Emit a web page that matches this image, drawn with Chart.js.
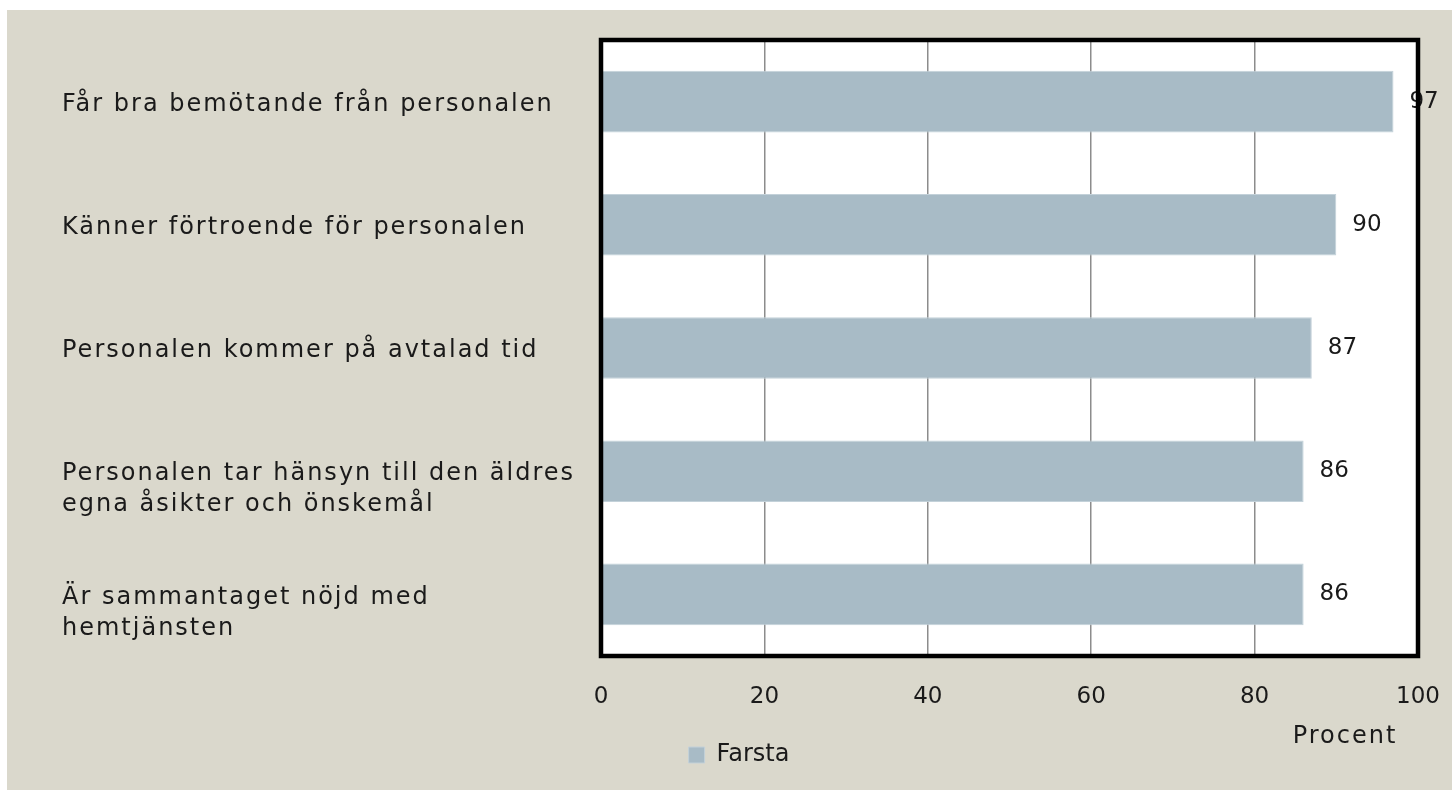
<!DOCTYPE html>
<html>
<head>
<meta charset="utf-8">
<script src="https://cdn.jsdelivr.net/npm/chart.js@4"></script>
<style>
  html, body { margin: 0; padding: 0; background: #ffffff; }
  #wrap { position: absolute; left: 7px; top: 10px; width: 1445px; height: 780px; background: #dad8cc; }
</style>
</head>
<body>
<div id="wrap"><canvas id="myChart" width="1445" height="780"></canvas></div>
<script>
// Data
const categories = [
    ['Får bra bemötande från personalen'],
    ['Känner förtroende för personalen'],
    ['Personalen kommer på avtalad tid'],
    ['Personalen tar hänsyn till den äldres', 'egna åsikter och önskemål'],
    ['Är sammantaget nöjd med', 'hemtjänsten']
];
const farsta = [97, 90, 87, 86, 86];
const xTicks = [0, 20, 40, 60, 80, 100];
const seriesName = 'Farsta';
const axisTitle = 'Procent';

const FONT = 'DejaVu Sans';
const TEXT = '#1a1a1a';

// Vit bakgrund i ritytan + ram, etiketter
const decor = {
    id: 'decor',
    beforeDraw(chart) {
        const { ctx, chartArea: a } = chart;
        ctx.save();
        ctx.fillStyle = '#ffffff';
        ctx.fillRect(a.left, a.top, a.right - a.left, a.bottom - a.top);
        ctx.restore();
    },
    afterDatasetsDraw(chart) {
        const { ctx } = chart;
        const yScale = chart.scales.y;
        ctx.save();
        ctx.fillStyle = TEXT;
        ctx.textBaseline = 'middle';
        ctx.textAlign = 'left';
        // kategorietiketter
        ctx.font = '24px "' + FONT + '"';
        ctx.letterSpacing = '2px';
        categories.forEach((lines, i) => {
            const y = yScale.getPixelForValue(i) + 3;
            lines.forEach((line, j) => ctx.fillText(line, 55, y + j * 31));
        });
        // axeltitel
        ctx.textAlign = 'center';
        ctx.fillText(axisTitle, 1338, 727);
        // värdeetiketter
        ctx.font = '23px "' + FONT + '"';
        ctx.letterSpacing = '0px';
        ctx.textAlign = 'left';
        chart.getDatasetMeta(0).data.forEach((bar, i) => {
            ctx.fillText(String(farsta[i]), bar.x + 16, bar.y);
        });
        ctx.restore();
    },
    afterDraw(chart) {
        const { ctx, chartArea: a } = chart;
        ctx.save();
        ctx.strokeStyle = '#000000';
        ctx.lineWidth = 4.5;
        ctx.strokeRect(a.left, a.top, a.right - a.left, a.bottom - a.top);
        ctx.restore();
    }
};

const ctx = document.getElementById('myChart').getContext('2d');
const chart = new Chart(ctx, {
    type: 'bar',
    data: {
        labels: categories,
        datasets: [{
            label: seriesName,
            data: farsta,
            backgroundColor: '#a8bbc6',
            borderColor: '#c3d1d9',
            borderWidth: 1,
            barPercentage: 0.5,
            categoryPercentage: 1
        }]
    },
    options: {
        indexAxis: 'y',
        responsive: false,
        animation: false,
        layout: { padding: { top: 30, right: 34, left: 53, bottom: 13 } },
        scales: {
            x: {
                min: 0,
                max: 100,
                afterBuildTicks: s => { s.ticks = xTicks.map(v => ({ value: v })); },
                afterFit: s => { s.height = 77; s.paddingLeft = 0; s.paddingRight = 0; },
                grid: { color: '#8c8c8c', lineWidth: 1.5, drawTicks: false },
                border: { display: false },
                ticks: { padding: 27, color: TEXT, font: { family: FONT, size: 23 } }
            },
            y: {
                afterFit: s => { s.width = 541; },
                grid: { display: false },
                border: { display: false },
                ticks: { display: false }
            }
        },
        plugins: {
            legend: {
                position: 'bottom',
                labels: {
                    boxWidth: 16,
                    boxHeight: 16,
                    padding: 10,
                    color: TEXT,
                    font: { family: FONT, size: 24 }
                }
            },
            tooltip: { enabled: false }
        }
    },
    plugins: [decor]
});
</script>
</body>
</html>
